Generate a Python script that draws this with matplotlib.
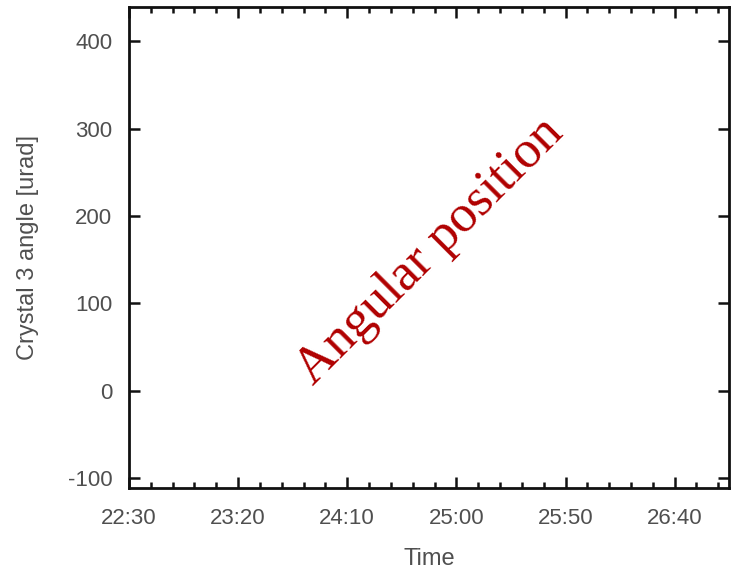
import matplotlib
matplotlib.use('Agg')
import matplotlib.pyplot as plt
from matplotlib.ticker import FixedLocator, MultipleLocator, FuncFormatter

# ── Chart data ────────────────────────────────────────────────────────────────
x_tick_labels = ['22:30', '23:20', '24:10', '25:00', '25:50', '26:40']
x_range_labels = ('22:30', '27:05')
y_ticks = [-100, 0, 100, 200, 300, 400]
y_range = (-111, 439)
x_label = 'Time'
y_label = 'Crystal 3 angle [urad]'
note_text = 'Angular position'
note_pos = ('24:48', 160)   # (time, urad)


def to_min(s):
    h, m = s.split(':')
    return int(h) * 60 + int(m)


def fmt_min(v, _pos=None):
    v = int(round(v))
    return f'{v // 60}:{v % 60:02d}'


plt.rcParams['axes.unicode_minus'] = False
plt.rcParams['font.family'] = ['Liberation Sans', 'DejaVu Sans']
GREY = '#4f4f4f'

fig = plt.figure(figsize=(7.32, 5.70), dpi=100)
ax = fig.add_axes([0.1762, 0.1439, 0.8200, 0.8438])

ax.set_xlim(to_min(x_range_labels[0]), to_min(x_range_labels[1]))
ax.set_ylim(*y_range)

ax.xaxis.set_major_locator(FixedLocator([to_min(s) for s in x_tick_labels]))
ax.xaxis.set_major_formatter(FuncFormatter(fmt_min))
ax.xaxis.set_minor_locator(MultipleLocator(10))
ax.yaxis.set_major_locator(FixedLocator(y_ticks))

for sp in ax.spines.values():
    sp.set_linewidth(2.0)
    sp.set_color('#111111')

ax.tick_params(which='both', direction='in', top=True, right=True,
               color='#111111', width=1.8, labelcolor=GREY, labelsize=16)
ax.tick_params(which='major', length=8)
ax.tick_params(axis='x', which='major', pad=14.5)
ax.tick_params(axis='y', which='major', pad=12)
ax.tick_params(which='minor', length=4)

ax.set_xlabel(x_label, color=GREY, fontsize=17, labelpad=13.5)
ax.set_ylabel(y_label, color=GREY, fontsize=17, labelpad=21)

ax.text(to_min(note_pos[0]), note_pos[1], note_text,
        rotation=45, rotation_mode='anchor', ha='center', va='center',
        fontsize=38, color='#b00000', family='Liberation Serif')

fig.savefig('out.png', dpi=100)
